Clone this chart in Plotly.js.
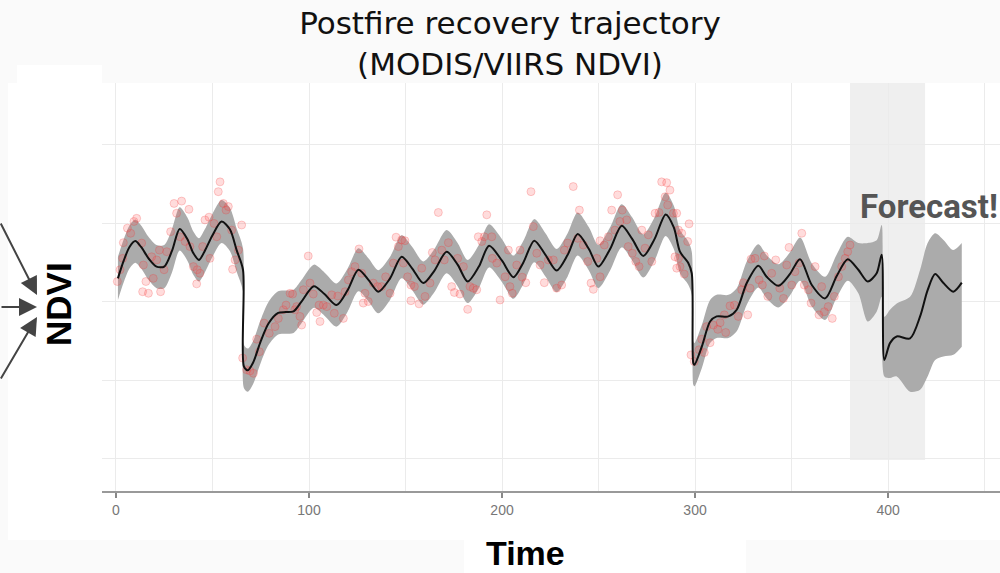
<!DOCTYPE html>
<html><head><meta charset="utf-8">
<script src="https://cdn.plot.ly/plotly-3.0.1.min.js"></script>
<style>html,body{margin:0;padding:0;background:#fafafa;} #chart{width:1000px;height:573px;}</style>
</head><body><div id="chart"></div>
<script>
// Observed NDVI points (time index, NDVI)
const obsTime = [
0.7,2.1,3.5,3.8,5.9,7.6,9.3,10.7,13.3,14.2,15.5,13.8,16.8,18.5,19.3,21.1,22.5,23.1,24.9,26.3,28.3,30.1,34,31.4,33.2,35.8,37.8,38.3,40.1,42.1,41.8,43.5,44.9,46.1,48.2,48.7,50.8,52.2,53,53.9,55.6,57,58.2,59.9,63.4,65.1,60.4,61.7,65.6,67.7,69.4,71.2,72.9,74.3,76.7,79.4,82.4,84.1,86.7,88.1,90.2,91.5,92.7,
93.6,95.3,96.2,97.1,99.6,100.5,102.2,104,105.7,105.2,107.4,109.2,111.8,113.1,114.9,117.8,118.7,120.4,122.1,123.8,125.9,127.3,129,128.1,130.7,133.3,135.6,137.6,139.7,142,143.7,145.1,146.3,148,149.7,148.9,151.1,152.8,152.8,154.6,157,158.4,160.1,162.7,163.9,165.3,167,168.8,170.1,172.2,173.9,175.3,177,178.2,180,182.2,183.4,185.1,186.9,187.7,189.5,190.8,192.1,
194.7,195,197.3,199,201.6,203.3,204.1,205.3,207.6,209.3,210.5,212.3,215,216.2,218,219.7,221.9,224,226.6,228.3,230.9,232.3,234,236.9,239.2,240.1,242.1,244.4,246.1,247.3,249.1,250.8,250.8,253,255.1,256.8,258.5,259.9,261.1,262.3,264.6,265.4,267.5,269.3,271,272.4,274.1,275.8,277.6,279.3,281.3,282.7,285.3,287,284.5,285.8,288.8,289.6,290.5,
290.5,291.4,293.1,296.9,296.2,291.4,292.2,294.4,297.9,299.6,302.1,303.5,304.8,306,307.8,309.5,311.8,313,315.9,315.2,318.1,320.4,322.4,324.2,325,327.3,328.5,329,331.1,333.2,334.9,335.9,337.7,339.7,341.8,343.9,345.8,347.5,348.7,350.1,351.8,353.9,355.3,356.6,358.7,360.1,362.2,364.2,365.6,367,369,371.1,372.2,374.3,376,377.8,379.1,380.3
];
const obsNdvi = [
0.452,0.482,0.511,0.551,0.588,0.575,0.605,0.613,0.55,0.494,0.452,0.426,0.422,0.515,0.46,0.507,0.532,0.426,0.482,0.528,0.579,0.651,0.657,0.626,0.566,0.554,0.636,0.541,0.49,0.482,0.446,0.473,0.541,0.609,0.616,0.511,0.6,0.566,0.681,0.706,0.651,0.634,0.643,0.583,0.532,0.596,0.483,0.507,0.257,0.227,0.224,0.218,0.305,0.273,0.346,0.32,0.337,0.358,0.38,0.392,0.422,0.42,0.38,
0.388,0.363,0.341,0.431,0.517,0.448,0.42,0.373,0.35,0.392,0.392,0.388,0.418,0.371,0.415,0.358,0.426,0.456,0.477,0.49,0.535,0.473,0.422,0.397,0.401,0.448,0.439,0.439,0.464,0.422,0.499,0.565,0.541,0.558,0.556,0.499,0.464,0.443,0.403,0.439,0.395,0.486,0.414,0.448,0.526,0.507,0.628,0.532,0.507,0.551,0.439,0.424,0.511,0.42,0.49,0.381,0.439,0.435,0.431,0.566,0.554,0.566,0.622,
0.566,0.511,0.499,0.405,0.464,0.532,0.439,0.422,0.494,0.532,0.463,0.449,0.681,0.592,0.524,0.494,0.449,0.507,0.507,0.435,0.443,0.532,0.55,0.694,0.562,0.634,0.545,0.503,0.448,0.432,0.511,0.556,0.464,0.545,0.566,0.634,0.583,0.673,0.605,0.634,0.609,0.541,0.524,0.503,0.49,0.583,0.537,0.571,0.503,0.626,0.628,0.706,0.704,0.685,0.668,0.647,0.626,0.515,0.486,
0.626,0.583,0.575,0.599,0.554,0.511,0.49,0.471,0.265,0.248,0.278,0.305,0.271,0.337,0.296,0.341,0.33,0.347,0.322,0.367,0.39,0.392,0.363,0.431,0.449,0.367,0.435,0.509,0.511,0.456,0.443,0.517,0.414,0.473,0.507,0.435,0.409,0.494,0.539,0.443,0.477,0.499,0.575,0.443,0.431,0.397,0.49,0.367,0.439,0.375,0.388,0.358,0.414,0.464,0.49,0.511,0.528,0.545
];

// Fitted trajectory and forecast with uncertainty band
const fitTime = [1,4,7,10,13,17,21,25,29,33,37,40,43,46,50,54.7,59,62.5,65.8,66.3,68.3,71,75,79,84,88,92,96,102.5,108,114.3,120,125.6,131,135.9,142,148,153.5,159.2,165,171.3,177,182.2,188,193.3,200,205.9,211,216.7,222.5,228.3,234,239.2,245,249.9,256,262,267.5,273.2,279,284.8,289,292.2,296.5,298.3,299.1,299.7,303.5,307.8,311.2,317.3,321.6,326.8,332.8,337.1,343.2,349,354.4,360.5,367.4,373.4,379.1,384.6,389.5,394.1,396.7,398.1,401,404.5,411.4,416.6,420.5,424.4,428.7,433.8,438.2];
const fitNdvi = [0.46,0.505,0.54,0.555,0.54,0.51,0.49,0.49,0.53,0.586,0.56,0.525,0.507,0.53,0.57,0.605,0.585,0.532,0.482,0.235,0.226,0.245,0.30,0.345,0.372,0.374,0.376,0.40,0.44,0.42,0.392,0.43,0.482,0.455,0.426,0.46,0.515,0.485,0.448,0.48,0.528,0.495,0.452,0.49,0.543,0.505,0.463,0.50,0.556,0.52,0.48,0.52,0.573,0.535,0.49,0.535,0.594,0.56,0.517,0.56,0.623,0.59,0.528,0.499,0.473,0.244,0.24,0.286,0.35,0.363,0.363,0.38,0.448,0.492,0.464,0.441,0.47,0.509,0.443,0.409,0.466,0.509,0.482,0.452,0.473,0.52,0.252,0.295,0.312,0.307,0.363,0.43,0.471,0.448,0.426,0.449];
const fitUpper = [0.515,0.56,0.595,0.61,0.595,0.565,0.545,0.545,0.585,0.641,0.615,0.58,0.562,0.585,0.625,0.66,0.64,0.587,0.537,0.29,0.281,0.30,0.355,0.40,0.427,0.429,0.431,0.455,0.495,0.475,0.447,0.485,0.537,0.51,0.481,0.515,0.57,0.54,0.503,0.535,0.583,0.55,0.507,0.545,0.598,0.56,0.518,0.555,0.611,0.575,0.535,0.575,0.628,0.59,0.545,0.59,0.649,0.615,0.572,0.615,0.678,0.645,0.583,0.554,0.528,0.299,0.295,0.341,0.405,0.418,0.418,0.435,0.503,0.547,0.519,0.496,0.525,0.564,0.498,0.464,0.521,0.566,0.55,0.55,0.557,0.596,0.362,0.38,0.396,0.413,0.482,0.55,0.575,0.558,0.532,0.55];
const fitLower = [0.405,0.45,0.485,0.50,0.485,0.455,0.435,0.435,0.475,0.531,0.505,0.47,0.452,0.475,0.515,0.55,0.53,0.477,0.427,0.18,0.171,0.19,0.245,0.29,0.317,0.319,0.321,0.345,0.385,0.365,0.337,0.375,0.427,0.40,0.371,0.405,0.46,0.43,0.393,0.425,0.473,0.44,0.397,0.435,0.488,0.45,0.408,0.445,0.501,0.465,0.425,0.465,0.518,0.48,0.435,0.48,0.539,0.505,0.462,0.505,0.568,0.535,0.473,0.444,0.418,0.189,0.185,0.231,0.295,0.308,0.308,0.325,0.393,0.437,0.409,0.386,0.415,0.454,0.388,0.354,0.411,0.454,0.422,0.35,0.375,0.413,0.21,0.206,0.21,0.171,0.176,0.21,0.252,0.261,0.265,0.286];

const xTickVals = [0,100,200,300,400];
const xTickText = ['0','100','200','300','400'];
const xMinorGrid = [50,150,250,350,450];
const yGridVals = [0,0.2,0.4,0.6,0.8];
const forecastWindow = [380.3,419.2];

const traces = [
  {x: fitTime, y: fitLower, type:'scatter', mode:'lines', line:{width:0, shape:'spline', smoothing:0.8}, hoverinfo:'skip', showlegend:false},
  {x: fitTime, y: fitUpper, type:'scatter', mode:'lines', fill:'tonexty', fillcolor:'#ababab', line:{width:0, shape:'spline', smoothing:0.8}, hoverinfo:'skip', showlegend:false},
  {x: obsTime, y: obsNdvi, type:'scatter', mode:'markers', marker:{size:8, color:'rgba(255,80,80,0.2)', line:{color:'rgba(240,40,40,0.22)', width:1}}, showlegend:false},
  {x: fitTime, y: fitNdvi, type:'scatter', mode:'lines', line:{color:'#111', width:2, shape:'spline', smoothing:0.8}, showlegend:false}
];

const W = 898, H = 408, L = 102, B = 491;
const px = v => (v - L) / W;
const py = v => (B - v) / H;

const layout = {
  width:1000, height:573,
  paper_bgcolor:'#fafafa', plot_bgcolor:'#ffffff',
  margin:{l:102, r:0, t:83, b:82},
  showlegend:false,
  title:{text:'Postfire recovery trajectory<br>(MODIS/VIIRS NDVI)', x:0.51, xanchor:'center', y:0.94, yanchor:'top', font:{family:'DejaVu Sans, sans-serif', size:31, color:'#111'}},
  xaxis:{range:[-7.25,458], tickmode:'array', tickvals:xTickVals, ticktext:xTickText,
    showgrid:true, gridcolor:'#ebebeb', gridwidth:1,
    minor:{tickmode:'array', tickvals:xMinorGrid, showgrid:true, gridcolor:'#ebebeb', ticks:''},
    showline:true, linecolor:'#999', linewidth:2, ticks:'outside', ticklen:5, tickwidth:1.5, tickcolor:'#888',
    tickfont:{family:'Liberation Sans Narrow, Liberation Sans, Arial, sans-serif', size:14, color:'#777'}, zeroline:false},
  yaxis:{range:[-0.082,0.958], tickmode:'array', tickvals:yGridVals, showticklabels:false, showgrid:true, gridcolor:'#ebebeb', zeroline:false, showline:false, ticks:''},
  shapes:[
    {type:'rect', xref:'paper', yref:'paper', x0:px(8), x1:0, y0:py(540), y1:1, fillcolor:'#ffffff', line:{width:0}, layer:'below'},
    {type:'rect', xref:'paper', yref:'paper', x0:0, x1:1, y0:py(540), y1:0, fillcolor:'#ffffff', line:{width:0}, layer:'below'},
    {type:'rect', xref:'paper', yref:'paper', x0:px(17), x1:0, y0:1, y1:py(65), fillcolor:'#ffffff', line:{width:0}, layer:'below'},
    {type:'rect', xref:'paper', yref:'paper', x0:px(464), x1:px(746), y0:py(573), y1:py(540), fillcolor:'#ffffff', line:{width:0}, layer:'below'},
    {type:'rect', xref:'x', yref:'paper', x0:forecastWindow[0], x1:forecastWindow[1], y0:py(460), y1:1, fillcolor:'#efefef', line:{width:0}, layer:'below'}
  ],
  annotations:[
    {xref:'paper', yref:'paper', x:px(858), y:py(206), xanchor:'left', yanchor:'middle', text:'<b>Forecast!</b>', showarrow:false, font:{family:'Roboto, sans-serif', size:33, color:'#555'}},
    {xref:'paper', yref:'paper', x:px(58), y:py(304), xanchor:'center', yanchor:'middle', textangle:-90, text:'<b>NDVI</b>', showarrow:false, font:{family:'Liberation Sans, Arial, sans-serif', size:35, color:'#000'}},
    {xref:'paper', yref:'paper', x:px(525), y:py(553), xanchor:'center', yanchor:'middle', text:'<b>Time</b>', showarrow:false, font:{family:'Liberation Sans, Arial, sans-serif', size:34, color:'#000'}},
    {xref:'paper', yref:'paper', x:px(37), y:py(295), text:'', showarrow:true, arrowhead:2, arrowsize:1.8, arrowwidth:2, arrowcolor:'#444', standoff:0, ax:-37, ay:-73},
    {xref:'paper', yref:'paper', x:px(37), y:py(307), text:'', showarrow:true, arrowhead:2, arrowsize:1.8, arrowwidth:2, arrowcolor:'#444', standoff:0, ax:-37, ay:0},
    {xref:'paper', yref:'paper', x:px(37), y:py(317), text:'', showarrow:true, arrowhead:2, arrowsize:1.8, arrowwidth:2, arrowcolor:'#444', standoff:0, ax:-37, ay:63}
  ]
};

Plotly.newPlot('chart', traces, layout, {displayModeBar:false, staticPlot:true});
</script>
</body></html>
